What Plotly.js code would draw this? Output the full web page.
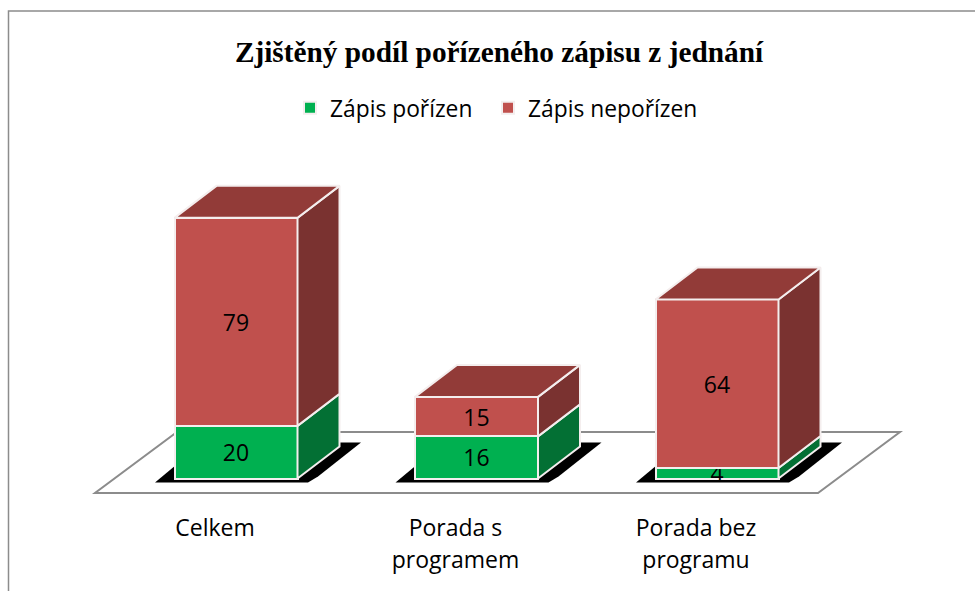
<!DOCTYPE html>
<html>
<head>
<meta charset="utf-8">
<script src="https://cdn.plot.ly/plotly-3.0.1.min.js"></script>
<style>html,body{margin:0;padding:0;background:#fff}</style>
</head>
<body>
<div id="chart" style="width:975px;height:591px"></div>
<script>
const categories = ["Celkem", "Porada s programem", "Porada bez programu"];
const tickLabels = ["Celkem", "Porada s<br>programem", "Porada bez<br>programu"];
const zapisPorizen = [20, 16, 4];
const zapisNeporizen = [79, 15, 64];
const chartTitle = "Zjištěný podíl pořízeného zápisu z jednání";

const W = 975, H = 591;
// plot box in page pixels
const L = 60, R = 915, T = 160, B = 510;
// scale: centre of first bar, pitch between bars, pixels per unit
const X0 = 236, PITCH = 240.5, BASE = 478.5, PPU = 2.633;
const xRange = [(L - X0) / PITCH, (R - X0) / PITCH];
const yRange = [(BASE - B) / PPU, (BASE - T) / PPU];
const dxU = px => px / PITCH;
const dyU = px => px / PPU;
const BW = 123 / PITCH;
const DX = dxU(42), DY = dyU(32);
const cGreen = "#00B050", cGreenSide = "#037034", cRed = "#C0504D", cRedSide = "#7A3230", cRedTop = "#923B38";
const edge = "#F4EEEE";

function face(name, color, xs, ys) {
  return {type: "scatter", mode: "lines", x: xs, y: ys, xaxis: "x2", yaxis: "y", fill: "toself",
    fillcolor: color, line: {color: edge, width: 2}, showlegend: false, hoverinfo: "skip", name};
}
const faces = [];
categories.forEach((c, i) => {
  const xr = i + BW / 2, xl = i - BW / 2;
  const a = zapisPorizen[i], t = a + zapisNeporizen[i];
  faces.push(face("bok", cGreenSide, [xr, xr + DX, xr + DX, xr, xr], [0, DY, a + DY, a, 0]));
  faces.push(face("bok", cRedSide, [xr, xr + DX, xr + DX, xr, xr], [a, a + DY, t + DY, t, a]));
  faces.push(face("vrch", cRedTop, [xl, xr, xr + DX, xl + DX, xl], [t, t, t + DY, t + DY, t]));
});

function path(pts) {
  return "M" + pts.map(p => p[0] + "," + p[1]).join("L") + "Z";
}
const shapes = [];
// floor of the 3D chart
shapes.push({type: "path", xref: "x2", yref: "y", layer: "below",
  path: path([[dxU(95 - X0), dyU(BASE - 493)], [dxU(818 - X0), dyU(BASE - 493)],
              [dxU(900 - X0), dyU(BASE - 432)], [dxU(177 - X0), dyU(BASE - 432)]]),
  fillcolor: "#FFFFFF", line: {color: "#8C8C8C", width: 2}});
// bar shadows on the floor
categories.forEach((c, i) => {
  shapes.push({type: "path", xref: "x2", yref: "y", layer: "below",
    path: path([[i + dxU(-81), dyU(-4)], [i + dxU(72), dyU(-4)], [i + dxU(82), dyU(2)],
                [i + dxU(125), dyU(36)], [i + dxU(-33), dyU(36)]]),
    fillcolor: "#000000", line: {width: 0}});
});
// outer frame (open to the right and bottom edge of the crop)
shapes.push({type: "path", xref: "paper", yref: "paper", layer: "below",
  path: `M${8.5 / W},0L${8.5 / W},${1 - 11 / H}L1,${1 - 11 / H}`,
  line: {color: "#8C8C8C", width: 1.5}});

const data = [
  {type: "bar", name: "Zápis pořízen", x: categories, y: zapisPorizen, width: BW, legendwidth: 153,
   marker: {color: cGreen, line: {color: edge, width: 2}},
   text: zapisPorizen.map(String), textposition: "inside", insidetextanchor: "middle", constraintext: "none",
   textangle: 0, textfont: {color: "#000", size: 23, family: "Open Sans"}, cliponaxis: false},
  {type: "bar", name: "Zápis nepořízen", x: categories, y: zapisNeporizen, width: BW, legendwidth: 180,
   marker: {color: cRed, line: {color: edge, width: 2}},
   text: zapisNeporizen.map(String), textposition: "inside", insidetextanchor: "middle", constraintext: "none",
   textangle: 0, textfont: {color: "#000", size: 23, family: "Open Sans"}, cliponaxis: false}
].concat(faces);

const layout = {
  width: W, height: H,
  margin: {l: 0, r: 0, t: 0, b: 0},
  paper_bgcolor: "#fff", plot_bgcolor: "rgba(0,0,0,0)",
  barmode: "stack",
  showlegend: true,
  title: {text: "<b>" + chartTitle + "</b>", x: 499 / W, xanchor: "center", y: 1 - 52 / H, yanchor: "middle",
    font: {family: "Liberation Serif", size: 29.3, color: "#000"}},
  legend: {orientation: "h", x: 290 / W, xanchor: "left", y: 1 - 108 / H, yanchor: "middle",
    font: {family: "Open Sans", size: 22.8, color: "#000"}, bgcolor: "rgba(0,0,0,0)", traceorder: "normal"},
  xaxis: {type: "category", domain: [L / W, R / W], anchor: "y", range: xRange, autorange: false, fixedrange: true,
    categoryorder: "array", categoryarray: categories,
    tickmode: "array", tickvals: categories,
    ticktext: tickLabels.map(t => t.split("<br>").map(s => `<span style="font-size:23px">${s}</span>`).join("<br>")),
    ticks: "", showline: false, showgrid: false, zeroline: false, ticklabelshift: -21,
    tickfont: {family: "Open Sans", size: 24.6, color: "#000"}},
  xaxis2: {domain: [L / W, R / W], overlaying: "x", anchor: "y", range: xRange, autorange: false, visible: false, fixedrange: true},
  yaxis: {domain: [1 - B / H, 1 - T / H], range: yRange, autorange: false, visible: false, fixedrange: true},
  shapes
};
Plotly.newPlot("chart", data, layout, {displayModeBar: false, staticPlot: true});
</script>
</body>
</html>
